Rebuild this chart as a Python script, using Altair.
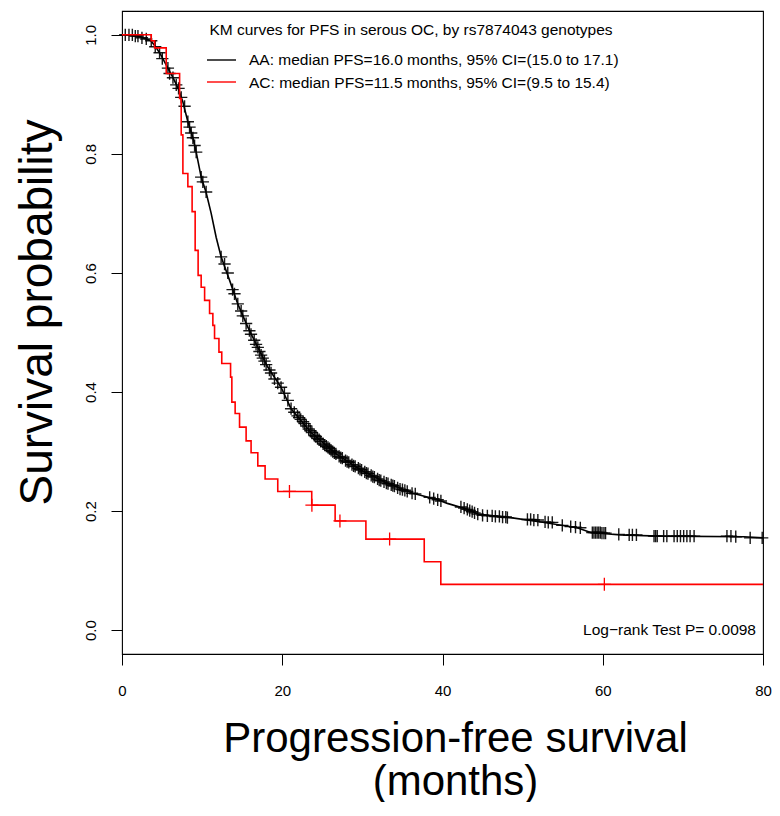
import altair as alt
import pandas as pd

FONT = "Liberation Sans"

# ---- AA genotype (black) : KM curve ----
aa_t = [0, 2.0, 3.0, 3.6, 4.2, 4.86, 5.73, 6.36, 6.98, 7.6, 8.22, 8.85, 9.26, 9.88, 10.5,
        11.13, 11.75, 12.37, 13.42, 14.45, 15.7, 16.95, 18.19, 19.85, 21.1, 23.6, 26.7,
        29.8, 32.9, 36.3, 39.4, 40.6, 43.1, 44.4, 48.5, 52.7, 56.8, 58.5, 62.2, 67.2,
        77.6, 80]
aa_s = [1.0, 0.998, 0.993, 0.99, 0.98, 0.966, 0.944, 0.928, 0.911, 0.887, 0.854, 0.827,
        0.803, 0.761, 0.735, 0.70, 0.660, 0.627, 0.588, 0.548, 0.509, 0.475, 0.442, 0.408,
        0.372, 0.332, 0.296, 0.269, 0.248, 0.230, 0.219, 0.213, 0.203, 0.195, 0.189, 0.181,
        0.172, 0.164, 0.160, 0.158, 0.157, 0.155]

# AA censoring marks (time, survival)
aa_cens_t = [0.41, 0.87, 1.29, 1.66, 1.99, 2.49, 3.03, 3.65, 4.15, 4.69, 5.03, 5.73, 5.94,
             6.36, 6.77, 7.06, 7.39, 7.81, 8.22, 8.43, 8.64, 8.85, 9.06, 9.26, 9.88, 10.09,
             10.5, 12.37, 12.8, 13.2, 13.8, 14.04, 14.45, 14.87, 15.08, 15.49, 15.9, 16.1,
             16.5, 16.73, 16.95, 17.15, 17.36, 17.57, 17.78, 17.99, 18.4, 18.6, 19.03, 19.44,
             19.85, 20.27, 20.7, 21.1,
             21.5, 21.9, 22.3, 22.6, 23.0, 23.3, 23.7, 24.0, 24.4, 24.8, 25.1, 25.5, 25.9,
             26.3, 26.7, 27.1, 27.5, 27.9, 28.3, 28.7, 29.1, 29.5, 29.9, 30.3, 30.7, 31.1,
             31.5, 31.9, 32.3, 32.7, 33.2, 33.6, 34.0, 34.4, 35.0, 35.6, 36.2, 36.6, 38.4,
             38.9, 39.4, 39.8,
             22.1, 22.8, 23.5, 24.2, 24.6, 25.3, 25.7, 26.1, 26.5, 27.3, 28.1, 28.9, 29.7,
             30.5, 31.3, 32.1, 33.0, 33.8, 34.7, 35.3,
             42.3, 42.7, 43.1, 43.4, 43.7, 44.0, 44.4,
             45.0, 45.6, 46.2, 46.6, 47.1, 47.5, 47.9, 48.1,
             50.6, 51.0, 51.4, 51.9, 52.8, 53.2, 53.7,
             54.95, 56.0, 56.6, 57.2,
             58.7, 58.9, 59.1, 59.3, 59.5, 59.7, 59.9, 60.15, 60.35,
             62.0, 63.3, 63.7, 64.2, 66.4, 66.6, 66.8, 67.6, 68.0,
             68.9, 69.3, 69.7, 70.1, 70.5, 70.9, 71.4,
             75.5, 76.0, 76.6, 78.4, 79.9]
aa_cens_s = [1.0, 1.0, 1.0, 0.998, 0.998, 0.995, 0.993, 0.99, 0.98, 0.97, 0.96, 0.944, 0.935,
             0.928, 0.916, 0.91, 0.895, 0.88, 0.854, 0.845, 0.835, 0.827, 0.814, 0.803, 0.761,
             0.753, 0.736, 0.627, 0.615, 0.60, 0.572, 0.565, 0.548, 0.536, 0.528, 0.515, 0.503,
             0.497, 0.487, 0.48, 0.475, 0.468, 0.462, 0.457, 0.452, 0.446, 0.437, 0.432, 0.422,
             0.415, 0.408, 0.398, 0.386, 0.372,
             0.366, 0.36, 0.354, 0.35, 0.343, 0.338, 0.332, 0.327, 0.322, 0.317, 0.313, 0.309,
             0.305, 0.30, 0.296, 0.292, 0.289, 0.285, 0.282, 0.278, 0.275, 0.272, 0.269, 0.266,
             0.263, 0.26, 0.257, 0.254, 0.251, 0.249, 0.246, 0.244, 0.242, 0.239, 0.236, 0.233,
             0.23, 0.229, 0.223, 0.221, 0.219, 0.217,
             0.357, 0.347, 0.335, 0.325, 0.32, 0.311, 0.307, 0.302, 0.298, 0.29, 0.283, 0.276,
             0.27, 0.264, 0.258, 0.252, 0.247, 0.243, 0.237, 0.235,
             0.207, 0.205, 0.203, 0.201, 0.199, 0.197, 0.195,
             0.193, 0.192, 0.192, 0.191, 0.191, 0.190, 0.190, 0.189,
             0.186, 0.186, 0.185, 0.185, 0.182, 0.181, 0.181,
             0.176, 0.174, 0.173, 0.172,
             0.164, 0.164, 0.164, 0.164, 0.164, 0.164, 0.163, 0.163, 0.163,
             0.161, 0.160, 0.160, 0.160, 0.158, 0.158, 0.158, 0.158, 0.158,
             0.158, 0.158, 0.158, 0.158, 0.158, 0.158, 0.158,
             0.158, 0.158, 0.157, 0.155, 0.155]

# ---- AC genotype (red) : KM step function ----
ac_t = [0, 3.65, 4.07, 5.52, 7.19, 7.39, 7.6, 8.22, 8.75, 9.13, 9.5, 9.88, 10.31, 10.93,
        11.34, 11.55, 12.1, 12.45, 13.55, 13.71, 14.12, 14.67, 15.49, 16.11, 16.95, 17.86,
        19.44, 23.68, 26.6, 30.44, 37.72, 39.79, 80]
ac_s = [1.0, 0.99, 0.978, 0.935, 0.893, 0.832, 0.767, 0.745, 0.703, 0.638, 0.596, 0.576,
        0.554, 0.532, 0.512, 0.49, 0.467, 0.448, 0.425, 0.383, 0.364, 0.341, 0.318, 0.298,
        0.276, 0.254, 0.233, 0.21, 0.1835, 0.153, 0.115, 0.077, 0.077]
ac_cens_t = [20.9, 23.7, 27.2, 33.4, 60.2]
ac_cens_s = [0.233, 0.21, 0.1835, 0.153, 0.077]

legend_title = "KM curves for PFS in serous OC, by rs7874043 genotypes"
legend_labels = ["AA: median PFS=16.0 months, 95% CI=(15.0 to 17.1)",
                 "AC: median PFS=11.5 months, 95% CI=(9.5 to 15.4)"]
pval_text = "Log\u2212rank Test P= 0.0098"

aa_df = pd.DataFrame({"t": aa_t, "s": aa_s})
ac_df = pd.DataFrame({"t": ac_t, "s": ac_s})
aac_df = pd.DataFrame({"t": aa_cens_t, "s": aa_cens_s})
acc_df = pd.DataFrame({"t": ac_cens_t, "s": ac_cens_s})

xsc = alt.Scale(domain=[0, 80], nice=False, zero=False)
ysc = alt.Scale(domain=[-0.04, 1.04], nice=False, zero=False)

xaxis = alt.Axis(values=[0, 20, 40, 60, 80], format="d", tickSize=11, labelPadding=18,
                 domain=False, grid=False, labelFontSize=15, labelFont=FONT,
                 labelColor="black", tickColor="black", labelFlush=False,
                 title=["Progression-free survival", "(months)"], titleFont=FONT,
                 titleFontSize=42, titleFontWeight="normal", titleColor="black",
                 titleLineHeight=43, titleX=333, titleY=97, titleAlign="center",
                 titleBaseline="alphabetic", titleAnchor=None)
yaxis = alt.Axis(values=[0, 0.2, 0.4, 0.6, 0.8, 1.0], format=".1f", tickSize=11,
                 labelPadding=16, labelAngle=270, labelAlign="center",
                 labelBaseline="alphabetic", domain=False, grid=False, labelFontSize=15,
                 labelFont=FONT, labelColor="black", tickColor="black", labelFlush=False,
                 title="Survival probability", titleFont=FONT, titleFontSize=46,
                 titleFontWeight="normal", titleColor="black", titleAngle=270,
                 titleX=-85, titleY=301, titleAlign="center", titleBaseline="middle")

CROSS = "M-1,0L1,0M0,-1L0,1"

aa_line = alt.Chart(aa_df).mark_line(color="black", strokeWidth=1.6).encode(
    x=alt.X("t:Q", scale=xsc, axis=xaxis),
    y=alt.Y("s:Q", scale=ysc, axis=yaxis),
    order="t:Q")
aa_cens = alt.Chart(aac_df).mark_point(shape=CROSS, filled=False, size=150,
                                       strokeWidth=1.4, color="black", opacity=0.9).encode(
    x=alt.X("t:Q", scale=xsc), y=alt.Y("s:Q", scale=ysc))
ac_line = alt.Chart(ac_df).mark_line(color="#ff0000", strokeWidth=1.6,
                                     interpolate="step-after").encode(
    x=alt.X("t:Q", scale=xsc), y=alt.Y("s:Q", scale=ysc), order="t:Q")
ac_cens = alt.Chart(acc_df).mark_point(shape=CROSS, filled=False, size=170,
                                       strokeWidth=1.3, color="#ff0000", opacity=1).encode(
    x=alt.X("t:Q", scale=xsc), y=alt.Y("s:Q", scale=ysc))

one = pd.DataFrame({"k": [0]})
txt_kw = dict(font=FONT, fontSize=15.5, color="black")
title_txt = alt.Chart(one).mark_text(align="center", baseline="middle", **txt_kw).encode(
    x=alt.value(289), y=alt.value(19), text=alt.value(legend_title))
aa_rule = alt.Chart(one).mark_rule(color="black", strokeWidth=1.4).encode(
    x=alt.value(85), x2=alt.value(114), y=alt.value(49))
ac_rule = alt.Chart(one).mark_rule(color="#ff0000", strokeWidth=1.4).encode(
    x=alt.value(85), x2=alt.value(114), y=alt.value(71))
aa_txt = alt.Chart(one).mark_text(align="left", baseline="middle", **txt_kw).encode(
    x=alt.value(127), y=alt.value(49), text=alt.value(legend_labels[0]))
ac_txt = alt.Chart(one).mark_text(align="left", baseline="middle", **txt_kw).encode(
    x=alt.value(127), y=alt.value(72), text=alt.value(legend_labels[1]))
p_txt = alt.Chart(one).mark_text(align="right", baseline="middle", **txt_kw).encode(
    x=alt.value(634), y=alt.value(619), text=alt.value(pval_text))

chart = alt.layer(aa_line, aa_cens, ac_line, ac_cens, title_txt, aa_rule, ac_rule,
                  aa_txt, ac_txt, p_txt).properties(
    width=641, height=643,
    autosize=alt.AutoSizeParams(type="none"),
    padding={"left": 114, "top": 3, "right": 9, "bottom": 148},
    background="white",
).configure_view(stroke="black", strokeWidth=1.1)

chart.save("out.html", embed_options={"renderer": "svg", "actions": False})
